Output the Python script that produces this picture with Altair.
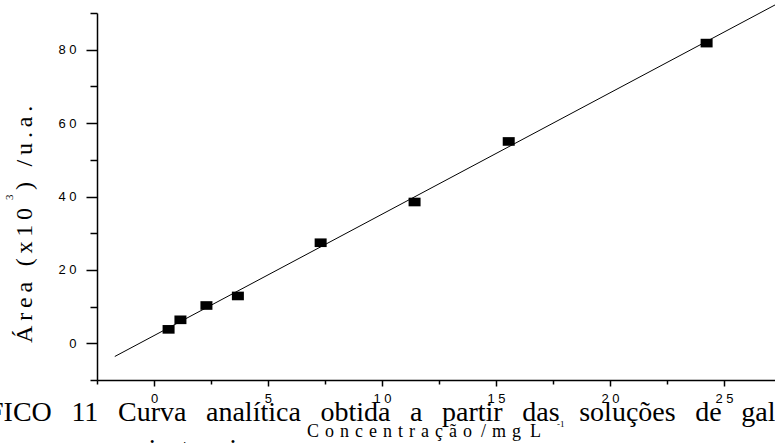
import altair as alt
import pandas as pd

# Calibration standards: concentration (mg/L) and peak area (x10^3 a.u.)
concentracao = [0.64, 1.16, 2.30, 3.68, 7.31, 11.43, 15.56, 24.24]
area = [3.8, 6.4, 10.3, 12.9, 27.4, 38.5, 55.0, 81.8]

# Axis tick positions (major + minor)
x_ticks = [-2.5, 0, 2.5, 5, 7.5, 10, 12.5, 15, 17.5, 20, 22.5, 25]
y_ticks = [-10, 0, 10, 20, 30, 40, 50, 60, 70, 80, 90]

# Caption text underneath the plot
caption_words = ["FICO", "11", "Curva", "analítica", "obtida", "a", "partir",
                 "das", "soluções", "de", "gal"]
caption_line2 = "epicatequina"

SERIF = "Liberation Serif"
SANS = "Liberation Sans"

PAD_L, PAD_T = 97, 13
W, H = 775 - PAD_L, 380 - PAD_T


def spaced(s, sep="\u2004"):
    return sep.join(list(s))


df = pd.DataFrame({"conc": concentracao, "area": area})

x_scale = alt.Scale(domain=[-2.5, 27.24], nice=False, zero=False)
y_scale = alt.Scale(domain=[-10, 90], nice=False, zero=False)

x_axis = alt.Axis(
    values=x_ticks, title=None, grid=False,
    domainColor="black", domainWidth=1.5, tickColor="black", tickWidth=1.5,
    tickSize={"condition": {"test": "datum.value % 5 === 0", "value": 6}, "value": 4},
    labelExpr="datum.value % 5 === 0 && datum.value >= 0 ? join(split(datum.label, ''), ' ') : ''",
    labelFont=SANS, labelFontSize=13, labelColor="black", labelPadding=6,
    labelFlush=False, labelOverlap=False,
)
y_axis = alt.Axis(
    values=y_ticks, title=None, grid=False,
    domainColor="black", domainWidth=1.5, tickColor="black", tickWidth=1.5,
    tickSize={"condition": {"test": "datum.value % 20 === 0", "value": 11}, "value": 7},
    labelExpr="datum.value % 20 === 0 && datum.value >= 0 ? join(split(datum.label, ''), ' ') : ''",
    labelFont=SANS, labelFontSize=13, labelColor="black", labelPadding=10,
    labelFlush=False, labelOverlap=False,
)

RECT = "M-1,-0.72L1,-0.72L1,0.72L-1,0.72Z"

enc_x = alt.X("conc:Q", scale=x_scale, axis=x_axis)
enc_y = alt.Y("area:Q", scale=y_scale, axis=y_axis)

points = alt.Chart(df).mark_point(
    shape=RECT, size=144, filled=True, color="black", opacity=1, strokeWidth=0
).encode(x=enc_x, y=enc_y)

fit = alt.Chart(df).transform_regression(
    "conc", "area", extent=[-1.72, 27.24]
).mark_line(color="black", strokeWidth=1).encode(x=enc_x, y=enc_y)


def label(text, px, py, size, font=SERIF, angle=0, align="left"):
    return alt.Chart(pd.DataFrame({"t": [text]})).mark_text(
        font=font, fontSize=size, angle=angle, align=align,
        baseline="alphabetic", color="black",
    ).encode(text="t:N", x=alt.value(px - PAD_L), y=alt.value(py - PAD_T))


caption = label("\u2002\u2009".join(caption_words), -12, 421, 28)
caption2 = label(caption_line2, 122, 458, 28)

x_title = label(
    spaced("Concentração") + "\u2002/\u2004" + spaced("mg") + "\u2002L",
    307, 437, 18)
x_sup = label("-1", 557, 427, 9)

y_title_a = label(spaced("Área (x10", "\u2009"), 32, 343, 24, angle=270)
y_sup = label("3", 13, 200, 11, angle=270)
y_title_b = label(spaced(") /u.a.", "\u2009"), 32, 190, 24, angle=270)

chart = alt.layer(
    fit, points, caption, caption2, x_title, x_sup, y_title_a, y_sup, y_title_b
).properties(
    width=W, height=H,
    padding={"left": PAD_L, "top": PAD_T, "right": 0, "bottom": 443 - 380},
    autosize=alt.AutoSizeParams(type="none"),
).configure_view(stroke=None)

chart.save("out.html", embed_options={"renderer": "svg", "actions": False})
